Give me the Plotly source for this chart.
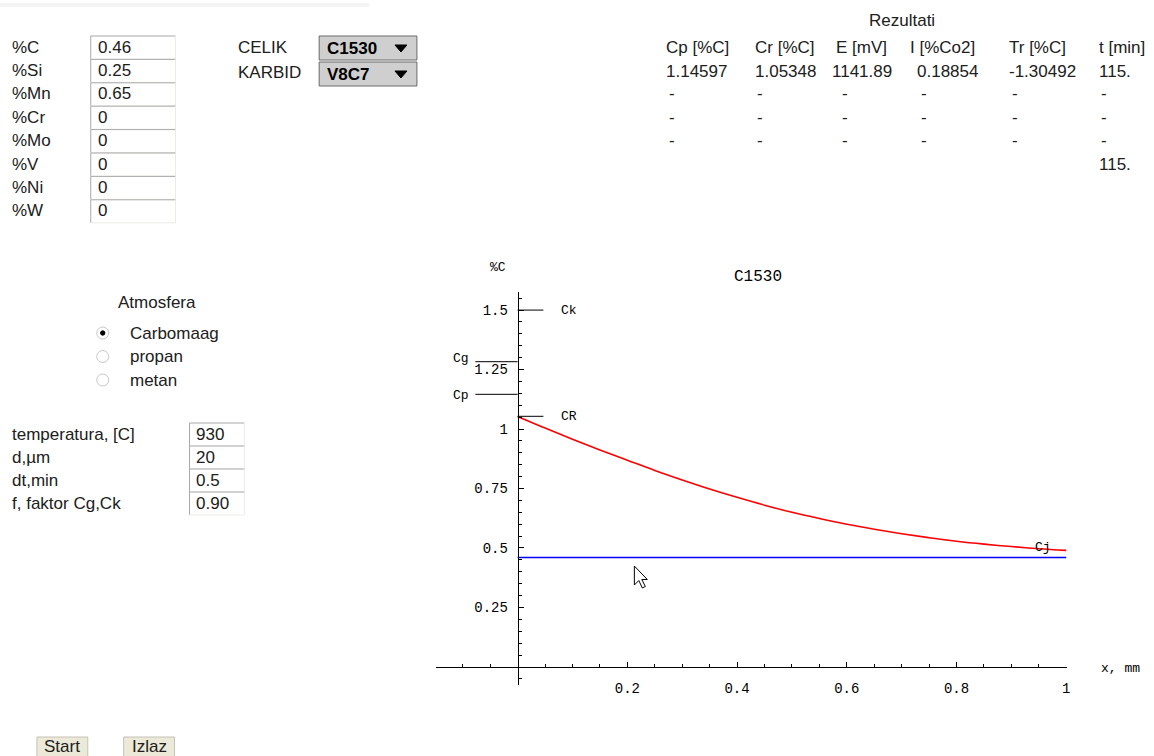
import plotly.graph_objects as go

W, H = 1154, 756

# ---------------- data ----------------
x_mm = [0.0, 0.05, 0.1, 0.15, 0.2, 0.25, 0.3, 0.35, 0.4, 0.45, 0.5,
        0.55, 0.6, 0.65, 0.7, 0.75, 0.8, 0.85, 0.9, 0.95, 1.0]
c_profile = [1.053, 1.004, 0.957, 0.912, 0.869, 0.826, 0.786, 0.748, 0.713, 0.680, 0.650,
             0.624, 0.600, 0.579, 0.560, 0.543, 0.528, 0.516, 0.506, 0.497, 0.490]
base_x = [0.0, 1.0]
base_c = [0.46, 0.46]
level_names = ["Ck", "Cg", "Cp", "CR"]
level_values = [1.50, 1.283, 1.14597, 1.05348]

composition_labels = ["%C", "%Si", "%Mn", "%Cr", "%Mo", "%V", "%Ni", "%W"]
composition_values = ["0.46", "0.25", "0.65", "0", "0", "0", "0", "0"]
param_labels = ["temperatura, [C]", "d,µm", "dt,min", "f, faktor Cg,Ck"]
param_values = ["930", "20", "0.5", "0.90"]
result_headers = ["Cp [%C]", "Cr [%C]", "E [mV]", "I [%Co2]", "Tr [%C]", "t [min]"]
result_row = ["1.14597", "1.05348", "1141.89", "0.18854", "-1.30492", "115."]
atmospheres = ["Carbomaag", "propan", "metan"]
x_tick_vals = [0.2, 0.4, 0.6, 0.8, 1.0]
x_tick_text = ["0.2", "0.4", "0.6", "0.8", "1"]
y_tick_vals = [0.25, 0.5, 0.75, 1.0, 1.25, 1.5]
y_tick_text = ["0.25", "0.5", "0.75", "1", "1.25", "1.5"]

UI = "Liberation Sans"
MONO = "Liberation Mono"
TXT = "#202020"
FS = 17


def px(x):
    return x / W


def py(y):
    return 1 - y / H


annotations = []
shapes = []


def text(x, y, s, size=FS, xanchor="left", family=UI, color=TXT):
    annotations.append(dict(x=px(x), y=py(y), xref="paper", yref="paper", text=s,
                            showarrow=False, xanchor=xanchor, yanchor="middle",
                            font=dict(family=family, size=size, color=color)))


def rect(x0, y0, x1, y1, fill, line=None, lw=1):
    shapes.append(dict(type="rect", xref="paper", yref="paper",
                       x0=px(x0), x1=px(x1), y0=py(y0), y1=py(y1),
                       fillcolor=fill, line=dict(color=line or fill, width=lw if line else 0)))


def seg(x0, y0, x1, y1, color, w=1):
    shapes.append(dict(type="line", xref="paper", yref="paper",
                       x0=px(x0), x1=px(x1), y0=py(y0), y1=py(y1),
                       line=dict(color=color, width=w)))


def poly(pts, fill, line="black", lw=1):
    path = "M " + " L ".join(f"{px(a):.5f},{py(b):.5f}" for a, b in pts) + " Z"
    shapes.append(dict(type="path", xref="paper", yref="paper", path=path,
                       fillcolor=fill, line=dict(color=line, width=lw)))


def textbox(x0, y0, x1, y1):
    rect(x0, y0, x1, y1, "#ffffff")
    seg(x0, y0, x1, y0, "#a8a8a8")
    seg(x0, y0, x0, y1, "#a8a8a8")
    seg(x1, y0, x1, y1, "#ecebe4")
    seg(x0, y1, x1, y1, "#ecebe4")


def circle(cx, cy, r, fill, line):
    shapes.append(dict(type="circle", xref="paper", yref="paper",
                       x0=px(cx - r), x1=px(cx + r), y0=py(cy + r), y1=py(cy - r),
                       fillcolor=fill, line=dict(color=line, width=1)))


# faint strip at top
rect(0, 3, 370, 7, "#f4f4f4")

# composition inputs
for i, (lab, val) in enumerate(zip(composition_labels, composition_values)):
    yc = 47 + i * 23.4
    text(10, yc, lab)
    textbox(91, yc - 11, 176, yc + 12)
    text(96, yc, val)

# dropdowns
text(237, 47, "CELIK")
text(237, 73, "KARBID")
for yc, lab in [(48, "C1530"), (74, "V8C7")]:
    rect(320, yc - 12, 418, yc + 12, "#cfcfcf", "#6a6a6a", 1)
    text(326, yc, f"<b>{lab}</b>", color="#000000")
    poly([(396, yc - 3), (408, yc - 3), (402, yc + 4)], "#000000", "#000000", 1)

# atmosphere radio group
text(157, 302, "Atmosfera", xanchor="center")
for i, a in enumerate(atmospheres):
    yc = 333 + i * 23.5
    circle(103, yc, 6, "#ffffff", "#c8c8c8")
    if i == 0:
        circle(103, yc, 2.2, "#000000", "#000000")
    text(128, yc, a)

# process parameters
for i, (lab, val) in enumerate(zip(param_labels, param_values)):
    yc = 434 + i * 23
    text(10, yc, lab)
    textbox(190, yc - 11, 245, yc + 12)
    text(195, yc, val)

# buttons
for x0, x1, lab in [(37, 88, "Start"), (124, 175, "Izlaz")]:
    rect(x0, 737, x1, 762, "#ece9d8", "#c4c2b8", 1)
    text((x0 + x1) / 2, 746, lab, xanchor="center")

# results table
text(904, 20, "Rezultati", xanchor="center")
head_x = [666, 755, 836, 910, 1010, 1100]
val_x = [666, 755, 832, 917, 1010, 1100]
dash_x = [669, 757, 842, 921, 1013, 1102]
for hx, h in zip(head_x, result_headers):
    text(hx, 47, h)
for vx, v in zip(val_x, result_row):
    text(vx, 71, v)
for r in range(3):
    for dx in dash_x:
        text(dx, 94 + r * 23.3, "-")
text(1100, 164, result_row[-1])

# chart texts (paper-positioned)
text(499, 268, "%C", size=13, xanchor="center", family=MONO, color="#000000")
text(760, 277, "C1530", size=16, xanchor="center", family=MONO, color="#000000")
text(1102, 668, "x, mm", size=13, family=MONO, color="#000000")

# mouse cursor
cx0, cy0 = 636, 566
cur = [(0, 0), (0, 19), (4.5, 14.5), (8, 22), (11, 20.5), (7.5, 13.5), (13, 13.5)]
poly([(cx0 + a, cy0 + b) for a, b in cur], "#ffffff", "#000000", 1)

# ---------------- chart ----------------
fig = go.Figure()
fig.add_trace(go.Scatter(x=x_mm, y=c_profile, mode="lines",
                         line=dict(color="#ff0000", width=1.6, shape="spline"),
                         hoverinfo="skip", showlegend=False))
fig.add_trace(go.Scatter(x=base_x, y=base_c, mode="lines",
                         line=dict(color="#0000ff", width=1.6),
                         hoverinfo="skip", showlegend=False))

# level marks: Ck, CR to the right of axis; Cg, Cp to the left
right_span = [0.0, 0.047]
left_span = [-0.077, 0.0]
for name, val in zip(level_names, level_values):
    span = right_span if name in ("Ck", "CR") else left_span
    fig.add_trace(go.Scatter(x=span, y=[val, val], mode="lines",
                             line=dict(color="#000000", width=1),
                             hoverinfo="skip", showlegend=False))
    if name in ("Ck", "CR"):
        ax, ay = 0.094, val
    else:
        ax, ay = -0.104, val + (0.012 if name == "Cg" else -0.004)
    annotations.append(dict(x=ax, y=ay, xref="x", yref="y", text=name, showarrow=False,
                            xanchor="center", yanchor="middle",
                            font=dict(family=MONO, size=13, color="#000000")))
annotations.append(dict(x=0.958, y=0.50, xref="x", yref="y", text="Cj", showarrow=False,
                        xanchor="center", yanchor="middle",
                        font=dict(family=MONO, size=13, color="#000000")))

minor_x = [round(-0.1 + 0.05 * k, 2) for k in range(23)]
minor_x = [v for v in minor_x if v not in x_tick_vals and v != 0.0]
minor_y = [round(-0.05 + 0.05 * k, 2) for k in range(33)]
minor_y = [v for v in minor_y if v not in y_tick_vals and v != 0.0]

tickfont = dict(family=MONO, size=14, color="#000000")
fig.update_layout(
    width=W, height=H, margin=dict(l=0, r=0, t=0, b=0),
    paper_bgcolor="#ffffff", plot_bgcolor="rgba(0,0,0,0)",
    showlegend=False,
    xaxis=dict(domain=[437 / W, 1070 / W], range=[-0.149, 1.0018], anchor="free",
               position=1 - 667 / H, showline=True, linecolor="#000000", linewidth=1,
               ticks="inside", ticklen=5, tickcolor="#000000", tickwidth=1,
               tickmode="array", tickvals=x_tick_vals, ticktext=x_tick_text,
               ticklabelstandoff=8,
               tickfont=tickfont, showgrid=False, zeroline=False, fixedrange=True,
               minor=dict(tickmode="array", tickvals=minor_x, ticks="inside", ticklen=3,
                          tickcolor="#000000", showgrid=False)),
    yaxis=dict(domain=[1 - 685 / H, 1 - 292 / H], range=[-0.076, 1.576], anchor="free",
               position=519 / W, side="left", showline=True, linecolor="#000000", linewidth=1,
               ticks="inside", ticklen=5, tickcolor="#000000", tickwidth=1,
               tickmode="array", tickvals=y_tick_vals, ticktext=y_tick_text,
               ticklabelstandoff=7,
               tickfont=tickfont, showgrid=False, zeroline=False, fixedrange=True,
               minor=dict(tickmode="array", tickvals=minor_y, ticks="inside", ticklen=3,
                          tickcolor="#000000", showgrid=False)),
    annotations=annotations,
    shapes=shapes,
)

fig.write_html("out.html", config={"displayModeBar": False},
               post_script="document.body.style.margin='0px'; document.body.style.overflow='hidden';")
